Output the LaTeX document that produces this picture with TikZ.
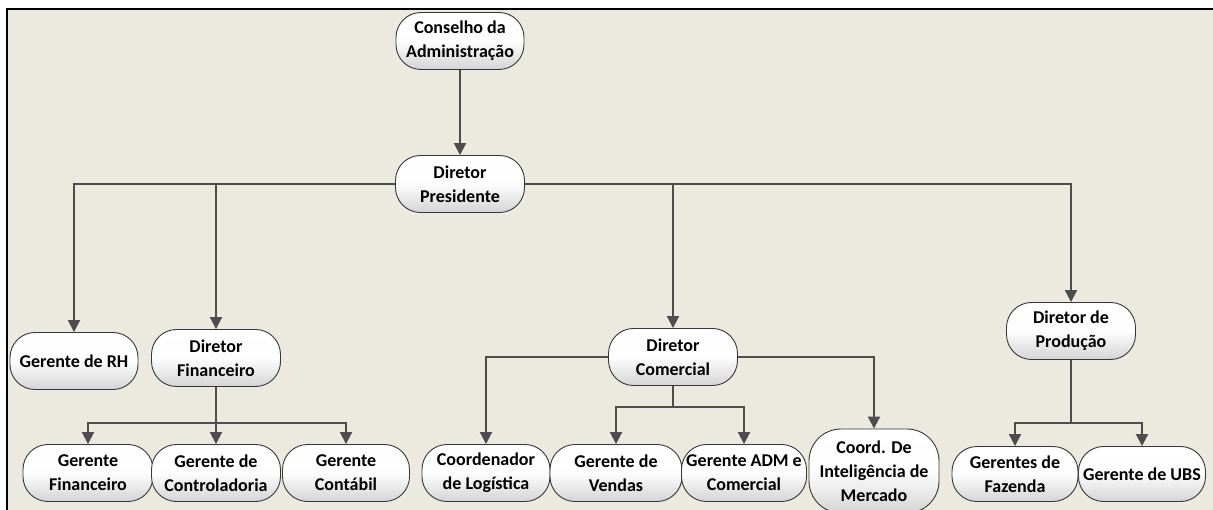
\documentclass[tikz,border=0pt]{standalone}
\usepackage{fontspec}
\setmainfont{Carlito}
\usetikzlibrary{arrows.meta,shadings}
\definecolor{bgbeige}{RGB}{236,233,222}
\definecolor{linegray}{RGB}{77,77,77}
\definecolor{nodebot}{RGB}{212,212,212}
\definecolor{nodeedge}{RGB}{55,55,55}
\tikzset{
  box/.style={draw=nodeedge, line width=0.9pt, rounded corners=25pt,
    top color=white, bottom color=nodebot, middle color=white!96!nodebot,
    align=center, font=\bfseries\fontsize{18}{24}\selectfont,
    inner sep=1pt, minimum height=57pt},
  arr/.style={draw=linegray, line width=2pt, -{Triangle[length=12pt,width=12pt]}},
  ln/.style={draw=linegray, line width=2pt}
}
\begin{document}
\begin{tikzpicture}[x=1pt,y=-1pt]
\useasboundingbox (0,0) rectangle (1213,510);
\fill[white] (0,0) rectangle (1213,510);
\fill[bgbeige] (7,9) rectangle (1213,510);
\draw[black, line width=2.5pt] (7,540) -- (7,9) -- (1230,9);

\node[box, minimum width=128pt] (cons) at (460,41) {Conselho da\\Administração};
\node[box, minimum width=129pt] (pres) at (460,184) {Diretor\\Presidente};
\node[box, minimum width=128pt] (rh) at (74,361) {Gerente de RH};
\node[box, minimum width=129pt] (dfin) at (216,358) {Diretor\\Financeiro};
\node[box, minimum width=130pt] (gfin) at (88,473) {Gerente\\Financeiro};
\node[box, minimum width=129pt] (gcon) at (216,473) {Gerente de\\Controladoria};
\node[box, minimum width=127pt] (gcont) at (346,473) {Gerente\\Contábil};
\node[box, minimum width=129pt] (dcom) at (673,357) {Diretor\\Comercial};
\node[box, minimum width=128pt] (clog) at (486,473) {Coordenador\\de Logística};
\node[box, minimum width=132pt] (gven) at (616,473) {Gerente de\\Vendas};
\node[box, minimum width=125pt] (gadm) at (744,473) {Gerente ADM e\\Comercial};
\node[box, minimum width=130pt, minimum height=84pt, rounded corners=32pt] (cint) at (874,471) {Coord. De\\Inteligência de\\Mercado};
\node[box, minimum width=129pt] (dprod) at (1071,331) {Diretor de\\Produção};
\node[box, minimum width=126pt, minimum height=55pt] (gfaz) at (1015,474) {Gerentes de\\Fazenda};
\node[box, minimum width=127pt, minimum height=55pt] (gubs) at (1142,474) {Gerente de UBS};

\coordinate (fj) at (216,423);
\coordinate (cj) at (673,407);
\coordinate (pj) at (1071,423);

\draw[arr] (cons.south) -- (pres.north);
\draw[arr] (pres.west) -| (rh.north);
\draw[arr] (pres.west) -| (dfin.north);
\draw[arr] (pres.east) -| (dcom.north);
\draw[arr] (pres.east) -| (dprod.north);

\draw[ln] (dfin.south) -- (fj);
\draw[arr] (fj) -| (gfin.north);
\draw[arr] (fj) -- (gcon.north);
\draw[arr] (fj) -| (gcont.north);

\draw[arr] (dcom.west) -| (clog.north);
\draw[arr] (dcom.east) -| (cint.north);
\draw[ln] (dcom.south) -- (cj);
\draw[arr] (cj) -| (gven.north);
\draw[arr] (cj) -| (gadm.north);

\draw[ln] (dprod.south) -- (pj);
\draw[arr] (pj) -| (gfaz.north);
\draw[arr] (pj) -| (gubs.north);
\end{tikzpicture}
\end{document}
